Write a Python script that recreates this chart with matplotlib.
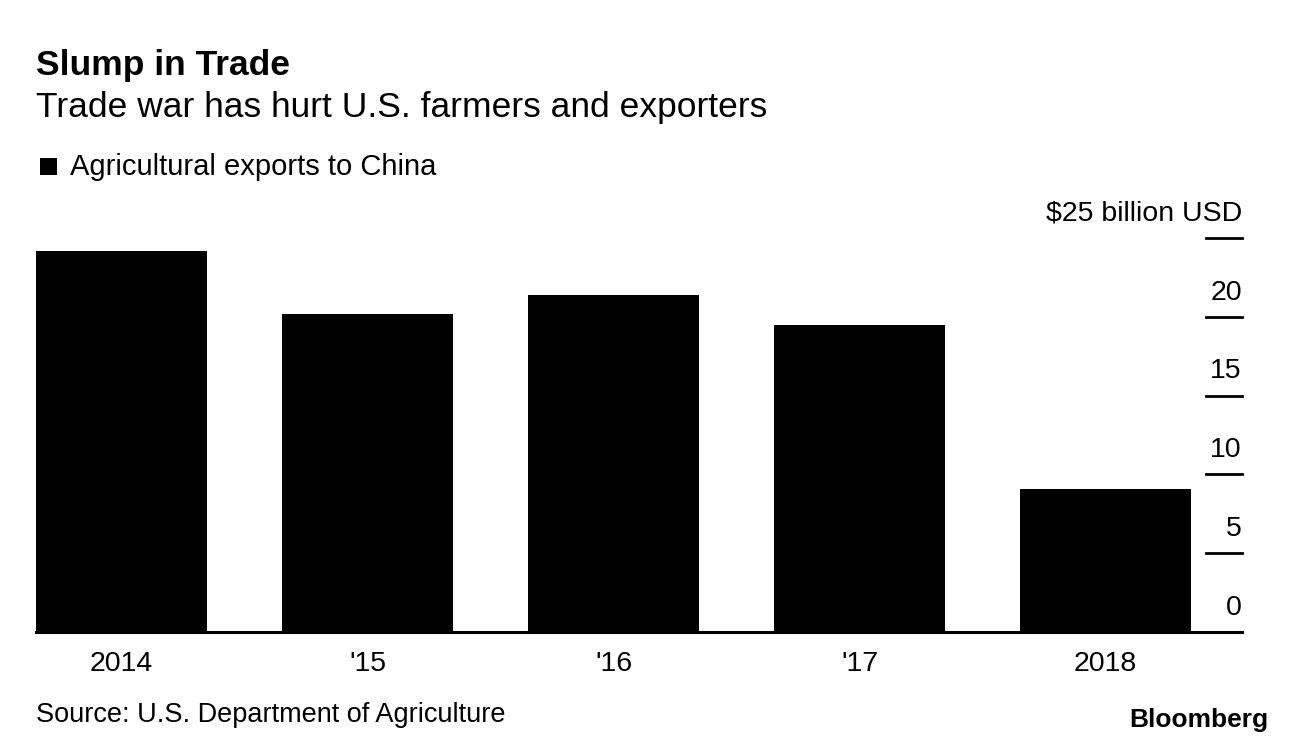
import matplotlib
matplotlib.use('Agg')
import matplotlib.pyplot as plt
from matplotlib.patches import Rectangle

plt.rcParams['font.family'] = ['Liberation Sans', 'DejaVu Sans']

# data (billion USD)
years = ['2014', "'15", "'16", "'17", '2018']
exports = [24.2, 20.2, 21.4, 19.5, 9.1]
yticks = [0, 5, 10, 15, 20, 25]
ytick_labels = ['0', '5', '10', '15', '20', '$25 billion USD']

W, H = 1296, 744
fig = plt.figure(figsize=(W / 100, H / 100), dpi=100)

def fx(px):
    return px / W

def fy(py):
    return 1 - py / H

# axes box: x 36..1242, y 238 (25) .. 632 (0)
ax = fig.add_axes([fx(36), fy(632), fx(1242 - 36), (632 - 238) / H])
xs = list(range(len(years)))
ax.bar(xs, exports, width=0.695, color='black', zorder=2)
ax.set_xlim(-0.3476, 4.555)
ax.set_ylim(0, 25)
for s in ax.spines.values():
    s.set_visible(False)
ax.set_yticks([])
ax.set_xticks(xs)
ax.set_xticklabels(years, fontsize=20.5)
ax.tick_params(axis='x', length=0, pad=13.5)

# baseline
ax.axhline(0, color='black', lw=2.2, zorder=3, clip_on=False)

# right-side tick dashes with labels sitting above them
tr = ax.get_yaxis_transform()
for v, lab in zip(yticks, ytick_labels):
    if v > 0:
        ax.plot([0.970, 1.0], [v, v], color='black', lw=2, transform=tr, clip_on=False)
    ax.annotate(lab, xy=(1.0, v), xycoords=tr, xytext=(0, 8), textcoords='offset points',
                ha='right', va='bottom', fontsize=20.5)

# titles
fig.text(fx(36), fy(75), 'Slump in Trade', fontsize=25.5, fontweight='bold', va='baseline')
fig.text(fx(36), fy(117), 'Trade war has hurt U.S. farmers and exporters', fontsize=25.5, va='baseline')

# legend
fig.patches.append(Rectangle((fx(40), fy(175)), fx(17), 17 / H, transform=fig.transFigure,
                             facecolor='black', edgecolor='none'))
fig.text(fx(70), fy(175), 'Agricultural exports to China', fontsize=21, va='baseline')

# footer
fig.text(fx(36), fy(722), 'Source: U.S. Department of Agriculture', fontsize=19.5, va='baseline')
fig.text(fx(1268), fy(727), 'Bloomberg', fontsize=19, fontweight='bold', ha='right', va='baseline',
         family=['Liberation Sans Narrow', 'Liberation Sans', 'DejaVu Sans'])

fig.savefig('out.png', dpi=100)
